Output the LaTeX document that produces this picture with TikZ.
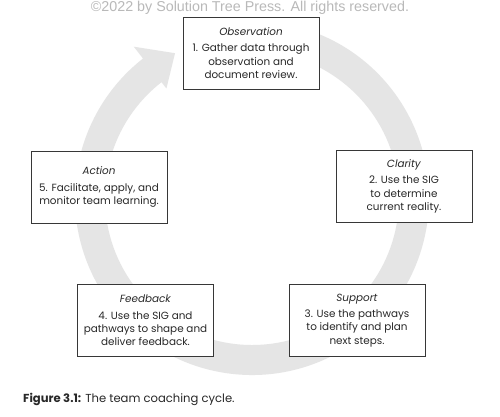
\documentclass[tikz,border=0pt]{standalone}
\usepackage{fontspec}
\setmainfont{Poppins}
\newfontfamily\crfont{Liberation Sans}
\usetikzlibrary{calc}
\definecolor{ringgray}{RGB}{229,229,229}
\definecolor{boxline}{RGB}{55,55,55}
\definecolor{txt}{RGB}{40,40,40}
\definecolor{crgray}{RGB}{185,185,185}
\begin{document}
\begin{tikzpicture}[x=1pt,y=1pt,
  stagebox/.style={draw=boxline, line width=0.8pt, fill=white, minimum width=136pt, minimum height=72pt, inner sep=0pt, align=center, text=txt, font=\fontsize{10.4}{13.3}\selectfont},
  ring/.style={fill=ringgray},
  captext/.style={text=txt, font=\fontsize{11.6}{13}\selectfont},
  crtext/.style={text=crgray, font=\crfont\fontsize{14.3}{16}\selectfont}
]
\useasboundingbox (0,0) rectangle (500,416);
\fill[white] (0,0) rectangle (500,416);
\coordinate (c) at (252,218);
\fill[ring] ($(c)+(80:177)$) arc[start angle=80, end angle=-232, radius=177]
  -- ($(c)+(128:192)$) -- ($(c)+(118:164)$) -- ($(c)+(128:139)$)
  -- ($(c)+(-232:147)$) arc[start angle=-232, end angle=80, radius=147] -- cycle;
\node[stagebox] (obs) at (251,363) {\textit{Observation}\\[3pt]1. Gather data through\\observation and\\document review.};
\node[stagebox] (act) at (99,229) {\textit{Action}\\[3pt]5. Facilitate, apply, and\\monitor team learning.};
\node[stagebox] (cla) at (404,229.5) {\textit{Clarity}\\[3pt]2. Use the SIG\\to determine\\current reality.};
\node[stagebox] (fee) at (145.5,95.5) {\textit{Feedback}\\[3pt]4. Use the SIG and\\pathways to shape and\\deliver feedback.};
\node[stagebox] (sup) at (357,95.5) {\textit{Support}\\[3pt]3. Use the pathways\\to identify and plan\\next steps.};
\node[captext, anchor=base west, inner sep=0pt] (cap) at (23,14) {\textbf{Figure 3.1:} The team coaching cycle.};
\node[crtext, anchor=base, inner sep=0pt] (cr) at (250,404.5) {©2022 by Solution Tree Press. All rights reserved.};
\end{tikzpicture}
\end{document}
